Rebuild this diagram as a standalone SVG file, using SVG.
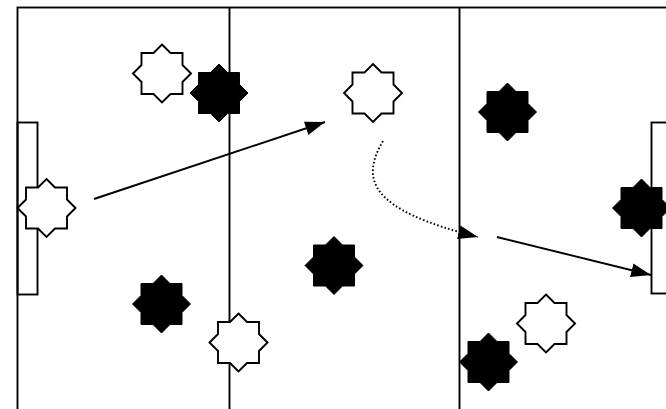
<svg xmlns="http://www.w3.org/2000/svg" width="666" height="409" viewBox="0 0 666 409">
<style>
.line{fill:none;stroke:#000;stroke-width:1.9}
.w{fill:#fff;stroke:#000;stroke-width:1.9;stroke-linejoin:miter}
.b{fill:#000;stroke:#000;stroke-width:1}
.arr{fill:none;stroke:#000;stroke-width:1.9}
.dot{fill:none;stroke:#000;stroke-width:1.9;stroke-dasharray:1.6 2.2}
</style>
<defs>
<polygon id="star" points="0,-29 8.5,-20.5 20.5,-20.5 20.5,-8.5 29,0 20.5,8.5 20.5,20.5 8.5,20.5 0,29 -8.5,20.5 -20.5,20.5 -20.5,8.5 -29,0 -20.5,-8.5 -20.5,-20.5 -8.5,-20.5"/>
<marker id="ah" markerUnits="userSpaceOnUse" markerWidth="20" markerHeight="14" refX="17" refY="6" orient="auto" viewBox="0 0 17 12">
<path d="M0,0 L17,6 L0,12 Z" fill="#000"/>
</marker>
</defs>
<rect width="666" height="409" fill="#fff"/>
<g id="pitch">
<rect class="line" x="17.5" y="7.5" width="700" height="430"/>
<line class="line" x1="229.5" y1="7" x2="229.5" y2="409"/>
<line class="line" x1="459.5" y1="7" x2="459.5" y2="409"/>
<rect class="line" x="17.5" y="122.5" width="20" height="172"/>
<rect class="line" x="651.5" y="122.5" width="40" height="171"/>
</g>
<g id="players">
<g id="w1"><use href="#star" class="w" transform="translate(162,73.5)"/></g>
<g id="b1"><use href="#star" class="b" transform="translate(219,93)"/></g>
<g id="w2"><use href="#star" class="w" transform="translate(46.5,208)"/></g>
<g id="w3"><use href="#star" class="w" transform="translate(373,93)"/></g>
<g id="b2"><use href="#star" class="b" transform="translate(507.5,112)"/></g>
<g id="b3"><use href="#star" class="b" transform="translate(641.5,208)"/></g>
<g id="b4"><use href="#star" class="b" transform="translate(334,265.5)"/></g>
<g id="b5"><use href="#star" class="b" transform="translate(161.5,304)"/></g>
<g id="w4"><use href="#star" class="w" transform="translate(238.5,342.5)"/></g>
<g id="w5"><use href="#star" class="w" transform="translate(546,323.5)"/></g>
<g id="b6"><use href="#star" class="b" transform="translate(488.5,362)"/></g>
</g>
<g id="connectors">
<line class="arr" x1="94" y1="199" x2="325" y2="122" marker-end="url(#ah)"/>
<path class="dot" d="M383,141 C360,180 370,210 478,237" marker-end="url(#ah)"/>
<line class="arr" x1="497" y1="237" x2="651" y2="275" marker-end="url(#ah)"/>
</g>
</svg>
